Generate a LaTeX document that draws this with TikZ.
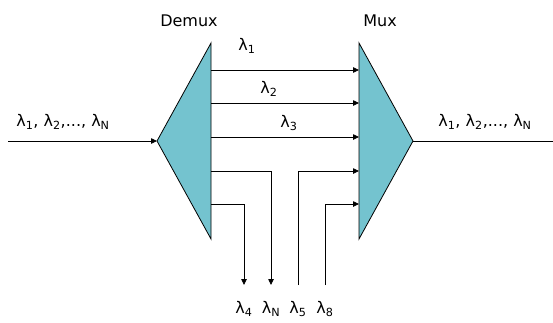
\documentclass[tikz,border=0pt]{standalone}
\usepackage{fontspec}
\setmainfont{DejaVu Sans}
\usetikzlibrary{arrows.meta}
\definecolor{prism}{HTML}{74C3CF}
\definecolor{ink}  {HTML}{000000}
\newcommand{\wl}[1]{λ\textsubscript{#1}}

\begin{document}
\begin{tikzpicture}[
  x=1pt, y=-1pt,
  font=\fontsize{16}{19}\selectfont,
  block/.style={draw=ink, fill=prism, line width=0.8pt, line join=miter},
  fibre/.style={draw=ink, line width=0.8pt},
  feed/.style ={fibre, -{Triangle[length=6pt,width=5.5pt]}},
  lbl/.style  ={inner sep=0pt},
]
  \useasboundingbox (0,0) rectangle (553,322);

  % --- the two prisms -------------------------------------------
  \coordinate (dapex) at (157,141);
  \coordinate (mapex) at (413,141);
  \draw[block] (dapex) -- (211,43) -- (211,239) -- cycle;
  \draw[block] (mapex) -- (359,43) -- (359,239) -- cycle;
  \node[lbl] (demux) at (189,21) {Demux};
  \node[lbl] (mux)   at (380,21) {Mux};

  % ports on the facing edges
  \foreach \i/\y in {1/70, 2/103, 3/137, 4/171, 5/204} {
    \coordinate (d\i) at (211,\y);
    \coordinate (m\i) at (359,\y);
  }

  % --- line in and line out -------------------------------------
  \coordinate (src) at (8,141);
  \coordinate (dst) at (553,141);
  \draw[feed]  (src) -- (dapex);
  \draw[fibre] (mapex) -- (dst);
  \node[lbl] (inlbl)  at (63,122)  {\wl{1}, \wl{2},..., \wl{N}};
  \node[lbl] (outlbl) at (485,122) {\wl{1}, \wl{2},..., \wl{N}};

  % --- channels passed straight through -------------------------
  \foreach \i in {1,2,3}
    \draw[feed] (d\i) -- (m\i);
  \node[lbl] (w1) at (247,46)  {\wl{1}};
  \node[lbl] (w2) at (269,89)  {\wl{2}};
  \node[lbl] (w3) at (289,123) {\wl{3}};

  % --- dropped and added channels -------------------------------
  \coordinate (drop4) at (244,285);
  \coordinate (dropN) at (271,285);
  \coordinate (add5)  at (298,285);
  \coordinate (add8)  at (325,285);
  \draw[feed] (d5) -| (drop4);
  \draw[feed] (d4) -| (dropN);
  \draw[feed] (add5) |- (m4);
  \draw[feed] (add8) |- (m5);
  \node[lbl] (w4) at (244,309) {\wl{4}};
  \node[lbl] (wN) at (271,309) {\wl{N}};
  \node[lbl] (w5) at (298,309) {\wl{5}};
  \node[lbl] (w8) at (325,309) {\wl{8}};
\end{tikzpicture}
\end{document}
